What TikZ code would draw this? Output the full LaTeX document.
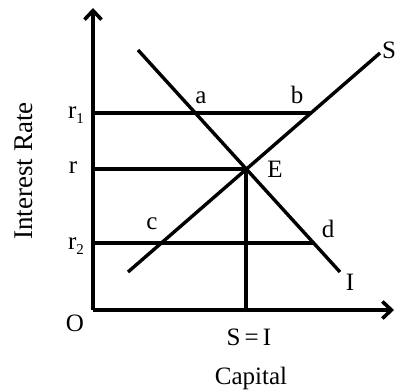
\documentclass[tikz,border=0pt]{standalone}
\usepackage{fontspec}
\setmainfont{Liberation Serif}
\usetikzlibrary{arrows.meta}
\begin{document}
\begin{tikzpicture}[x=1pt,y=-1pt,
  curve/.style={line width=3.4pt},
  guide/.style={line width=3.1pt},
  axis/.style={line width=3.6pt,-{Straight Barb[length=9pt,width=17pt,line width=3.6pt]}},
  lab/.style={font=\fontsize{25}{27}\selectfont, inner sep=0pt}]
\useasboundingbox (0,0) rectangle (398,389);
% axes
\coordinate (O) at (93,310);
\coordinate (ytop) at (93,8);
\coordinate (xend) at (394,310);
\draw[axis] (O) -- (ytop);
\draw[axis] (O) -- (xend);
% curves
\coordinate (Is) at (138,50);
\coordinate (Ie) at (340,272);
\coordinate (Ss) at (128,272);
\coordinate (Se) at (380,53);
\coordinate (E) at (246,169);
\coordinate (a) at (195,113);
\coordinate (b) at (311,113);
\coordinate (c) at (161,243);
\coordinate (d) at (314,243);
\coordinate (r1) at (93,113);
\coordinate (r) at (93,169);
\coordinate (r2) at (93,243);
\coordinate (EO) at (246,310);
\draw[guide] (r1) -- (b);
\draw[guide] (r) -- (E);
\draw[guide] (r2) -- (d);
\draw[guide] (E) -- (EO);
\draw[curve] (Is) -- (Ie);
\draw[curve] (Ss) -- (Se);
% labels
\node[lab] (la) at (201,98) {a};
\node[lab] (lb) at (297,95) {b};
\node[lab] (lS) at (389,50) {S};
\node[lab] (lE) at (275,169) {E};
\node[lab] (lc) at (152,224) {c};
\node[lab] (ld) at (328,229) {d};
\node[lab] (lI) at (350,282) {I};
\node[lab] (lr1) at (76,115) {r\raisebox{-0.45ex}{\fontsize{15}{15}\selectfont 1}};
\node[lab] (lr) at (73,168) {r};
\node[lab] (lr2) at (76,246) {r\raisebox{-0.45ex}{\fontsize{15}{15}\selectfont 2}};
\node[lab] (lO) at (75,323) {O};
\node[lab] (lSI) at (249,337) {S\,=\,I};
\node[lab] (lcap) at (251,378) {Capital};
\node[lab,font=\fontsize{27}{29}\selectfont,rotate=90] (lir) at (24,171) {Interest Rate};
\end{tikzpicture}
\end{document}
